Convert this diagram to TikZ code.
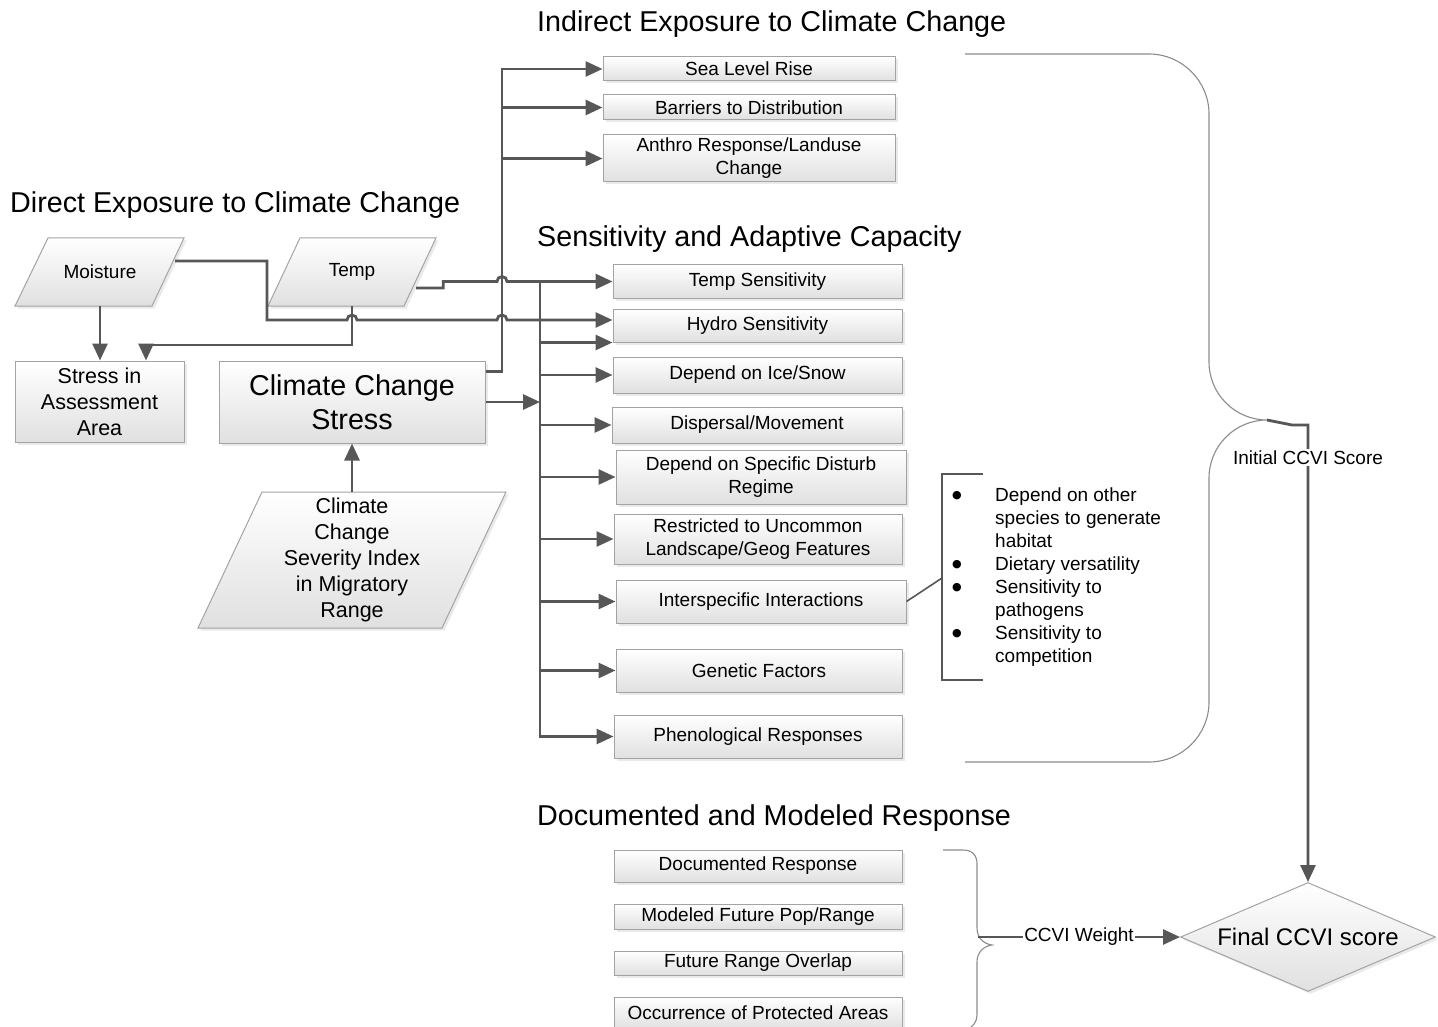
\documentclass[tikz,border=0pt]{standalone}
\usepackage{fontspec}
\setmainfont{Liberation Sans}
\newfontfamily\djvfont{DejaVu Sans}
\usetikzlibrary{arrows.meta,shapes.geometric,shadows,calc}
\definecolor{cline}{HTML}{575757}
\definecolor{bline}{HTML}{A3A3A3}
\definecolor{bbot}{HTML}{E0E0E0}
\definecolor{bracec}{HTML}{8C8C8C}
\newcommand{\bigbul}{\raisebox{2.5pt}{\djvfont\fontsize{11}{12}\selectfont ●}}
\tikzset{
  boxshadow/.style={drop shadow={shadow xshift=2.5pt, shadow yshift=-2.5pt, opacity=0.16}},
  box/.style={rectangle, draw=bline, line width=1pt, top color=white, bottom color=bbot,
    boxshadow, font=\fontsize{19}{23}\selectfont, align=center, inner sep=2pt, text=black},
  para/.style={draw=bline, line width=1pt, top color=white, bottom color=bbot, boxshadow},
  ptext/.style={align=center, inner sep=0pt, font=\fontsize{19}{23}\selectfont},
  conn/.style={draw=cline, line width=2.8pt, -{Triangle[length=17pt,width=15pt]}},
  plainln/.style={draw=cline, line width=2.8pt},
  thinln/.style={draw=cline, line width=1.6pt},
  title/.style={anchor=base west, font=\fontsize{28.7}{34}\selectfont, inner sep=0pt},
  bracebrd/.style={draw=bracec, line width=1.1pt},
  lbl/.style={fill=white, inner sep=1.5pt, font=\fontsize{19}{23}\selectfont},
}
\begin{document}
\begin{tikzpicture}[x=1pt,y=-1pt]
\fill[white] (0,0) rectangle (1438,1027);
\useasboundingbox (0,0) rectangle (1438,1027);

% titles
\node[title] (t1) at (537,32) {Indirect Exposure to Climate Change};
\node[title] (t2) at (10,213) {Direct Exposure to Climate Change};
\node[title] (t3) at (537,247) {Sensitivity and Adaptive Capacity};
\node[title] (t4) at (537,825) {Documented and Modeled Response};

% parallelograms
\shade[para] (48,238) -- (184,238) -- (152,306) -- (15,306) -- cycle;
\node[ptext, minimum width=150pt, minimum height=68pt] (moist) at (100,272) {Moisture};
\shade[para] (300,238) -- (436,238) -- (404,306) -- (268,306) -- cycle;
\node[ptext, minimum width=128pt, minimum height=68pt] (temp) at (352,272) {Temp};
\shade[para] (262,492) -- (506,492) -- (442,628) -- (198,628) -- cycle;
\node[ptext, font=\fontsize{21.5}{26}\selectfont, minimum width=200pt, minimum height=136pt] (sev) at (352,560)
  {Climate\\Change\\Severity Index\\in Migratory\\Range};

% left boxes
\node[box, font=\fontsize{21.5}{26}\selectfont, minimum width=169pt, minimum height=81pt] (stress) at (99.5,401.5)
  {Stress in\\Assessment\\Area};
\node[box, font=\fontsize{28.7}{34}\selectfont, minimum width=266pt, minimum height=82pt] (ccs) at (352,402)
  {Climate Change\\Stress};

% indirect exposure boxes
\node[box, minimum width=292pt, minimum height=24pt] (slr) at (749,69) {Sea Level Rise};
\node[box, minimum width=292pt, minimum height=25pt] (bar) at (749,107.5) {Barriers to Distribution};
\node[box, minimum width=292pt, minimum height=47pt] (anth) at (749,158.5) {Anthro Response/Landuse\\Change};

% sensitivity boxes
\node[box, minimum width=289pt, minimum height=34pt] (tsens) at (757.5,281.5) {Temp Sensitivity};
\node[box, minimum width=289pt, minimum height=33pt] (hydro) at (757.5,325.5) {Hydro Sensitivity};
\node[box, minimum width=289pt, minimum height=36pt] (ice) at (757.5,375) {Depend on Ice/Snow};
\node[box, minimum width=290pt, minimum height=36pt] (disp) at (757,425) {Dispersal/Movement};
\node[box, minimum width=290pt, minimum height=54pt] (dist) at (761,477) {Depend on Specific Disturb\\Regime};
\node[box, minimum width=288pt, minimum height=50pt] (restr) at (758,539) {Restricted to Uncommon\\Landscape/Geog Features};
\node[box, minimum width=290pt, minimum height=43pt] (inter) at (761,601.5) {Interspecific Interactions};
\node[box, minimum width=286pt, minimum height=43pt] (gen) at (759,670.5) {Genetic Factors};
\node[box, minimum width=288pt, minimum height=43pt] (pheno) at (758,736.5) {Phenological Responses};

% documented boxes
\node[box, minimum width=288pt, minimum height=32pt] (doc) at (758,866) {Documented Response};
\node[box, minimum width=288pt, minimum height=25pt] (mod) at (758,916.5) {Modeled Future Pop/Range};
\node[box, minimum width=288pt, minimum height=24pt] (fut) at (758,963) {Future Range Overlap};
\node[box, minimum width=288pt, minimum height=32pt] (occ) at (758,1013) {Occurrence of Protected Areas};

% final diamond
\node[diamond, draw=bline, line width=1pt, top color=white, bottom color=bbot, boxshadow,
  aspect=2.34, minimum width=255pt, minimum height=109pt, inner sep=0pt,
  font=\fontsize{24}{28}\selectfont] (final) at (1308,937) {Final CCVI score};

% bullet list and bracket
\node[anchor=north west, inner sep=0pt, font=\fontsize{19}{23}\selectfont] (bul) at (952,485) {%
\begin{tabular}{@{}p{43pt}@{}l@{}}
\bigbul & Depend on other\\
 & species to generate\\
 & habitat\\
\bigbul & Dietary versatility\\
\bigbul & Sensitivity to\\
 & pathogens\\
\bigbul & Sensitivity to\\
 & competition
\end{tabular}};
\draw[thinln] (983,474) -- (942,474) -- (942,680) -- (983,680);
\coordinate (brk) at (942,578);
\draw[thinln] (inter.east) -- (brk);

% helper x positions
\coordinate (jx) at (502,0);
\coordinate (tx) at (540,0);

% Moisture -> Stress
\draw[conn] (moist.south) -- (moist.south |- stress.north);
% Temp -> Stress
\draw[conn] (temp.south) -- (352,345) -- (146,345) -- ($(stress.north)+(46.5,0)$);
% Moisture -> Hydro Sensitivity
\coordinate (mstart) at ($(moist.east)+(0,-11)$);
\coordinate (htgt) at ($(hydro.west)+(0,-5.5)$);
\draw[conn] (mstart) -- (267,261) -- (267,320) -- (347,320)
  arc[start angle=180, end angle=0, radius=5pt] -- (497,320)
  arc[start angle=180, end angle=0, radius=5pt] -- (htgt);
% Temp -> Temp Sensitivity
\coordinate (tstart) at ($(temp.east)+(0,16)$);
\draw[conn] (tstart) -- ++(27,0) |- ($(tsens.west -| jx)+(-5,0)$)
  arc[start angle=180, end angle=0, radius=5pt] -- (tsens.west);
% Climate Change Stress -> indirect exposure
\coordinate (ccsA) at ($(ccs.north east)+(0,11)$);
\draw[conn] (ccsA) -- (ccsA -| jx) |- (slr.west);
\draw[conn] (bar.west -| jx) -- (bar.west);
\draw[conn] (anth.west -| jx) -- (anth.west);
% Climate Change Stress -> trunk
\draw[conn] (ccs.east) -- (ccs.east -| tx);
% trunk
\draw[conn] (tsens.west -| tx) |- (pheno.west);
\draw[conn] (hydro.south west -| tx) -- (hydro.south west);
\draw[conn] (ice.west -| tx) -- (ice.west);
\draw[conn] (disp.west -| tx) -- (disp.west);
\draw[conn] (dist.west -| tx) -- (dist.west);
\draw[conn] (restr.west -| tx) -- (restr.west);
\draw[conn] (inter.west -| tx) -- (inter.west);
\draw[conn] (gen.west -| tx) -- (gen.west);
% Severity -> Climate Change Stress
\draw[conn] (sev.north) -- (ccs.south);

% big brace
\draw[bracebrd] (965,54) -- (1149,54) .. controls (1182,54) and (1209,81) .. (1209,114)
  -- (1209,362) .. controls (1209,394) and (1235,420) .. (1267,420)
  .. controls (1235,420) and (1209,446) .. (1209,478)
  -- (1209,702) .. controls (1209,735) and (1182,762) .. (1149,762) -- (965,762);
\coordinate (tip) at (1267,420);
\draw[conn] (tip) -- (1292,425) -- (1308,425) --
  node[lbl, pos=0.072] {Initial CCVI Score} (final.north);

% small brace
\draw[bracebrd] (943,850) -- (963,850) .. controls (972,850) and (977,855) .. (977,864)
  -- (977,928) .. controls (977,938) and (984,944) .. (992,945)
  .. controls (984,946) and (977,952) .. (977,962)
  -- (977,1015) .. controls (977,1022) and (973,1027) .. (966,1030);
\coordinate (wst) at (978,937);
\draw[conn] (wst) -- node[lbl] {CCVI Weight} (final.west);
\end{tikzpicture}
\end{document}
